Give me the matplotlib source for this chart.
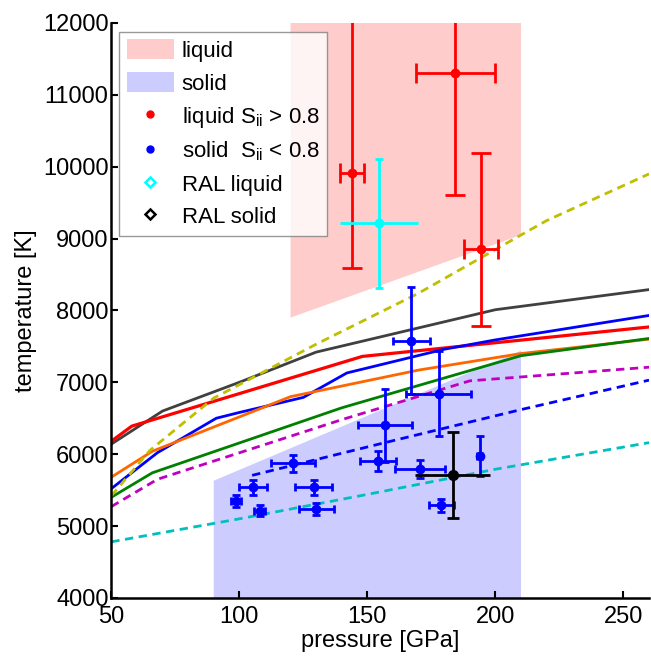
import matplotlib
matplotlib.use('Agg')
import matplotlib.pyplot as plt
from matplotlib.patches import Patch
from matplotlib.lines import Line2D

plt.rcParams['font.family'] = ['Liberation Sans', 'DejaVu Sans']
plt.rcParams['mathtext.default'] = 'regular'

# Phase regions (pressure GPa, temperature K)
liquid_p = [120, 210, 210, 120]
liquid_T = [12000, 12000, 9050, 7900]
solid_p = [90, 210, 210, 90]
solid_T = [4000, 4000, 7440, 5630]

# Melting curves
gray_p = [50, 70, 100, 130, 200, 260]
gray_T = [6140, 6600, 7000, 7420, 8010, 8290]
red_p = [50, 58, 148, 260]
red_T = [6180, 6390, 7360, 7770]
blue_p = [50, 68, 91, 100, 125, 142, 180, 200, 260]
blue_T = [5520, 6020, 6500, 6580, 6790, 7130, 7460, 7590, 7930]
orange_p = [50, 66, 120, 170, 210, 260]
orange_T = [5680, 6040, 6800, 7170, 7400, 7600]
green_p = [50, 66, 140, 210, 260]
green_T = [5400, 5740, 6645, 7370, 7610]
yellow_p = [50, 65, 90, 130, 170, 210, 220, 260]
yellow_T = [5420, 6050, 6780, 7530, 8240, 9050, 9250, 9900]
magenta_p = [50, 68, 140, 190, 260]
magenta_T = [5270, 5650, 6480, 7020, 7210]
bluedash_p = [105, 155, 210, 260]
bluedash_T = [5705, 6144, 6620, 7030]
cyan_p = [50, 100, 150, 200, 260]
cyan_T = [4780, 5100, 5440, 5790, 6160]

# Liquid points (S_ii > 0.8)
liq_p = [144.0, 184.4, 194.5]
liq_T = [9910, 11300, 8850]
liq_perr = [4.7, 15.5, 6.6]
liq_Tlo = [1320, 1690, 1070]
liq_Thi = [2500, 2500, 1340]

# Solid points (S_ii < 0.8)
sol_p = [98.8, 105.3, 107.9, 121.0, 129.0, 130.0, 154.0, 156.8, 167.2, 170.4, 177.8, 178.9, 193.8]
sol_T = [5350, 5540, 5215, 5870, 5540, 5240, 5900, 6400, 7580, 5800, 6840, 5290, 5970]
sol_perr = [2, 5.5, 2, 8.5, 7.2, 6.8, 7, 10.6, 7.2, 9.8, 12.7, 5, 0.8]
sol_Terr = [80, 105, 80, 115, 105, 80, 140, 510, 740, 125, 590, 90, 280]

# RAL points: pressure, temperature, pressure err, temperature err
ral_liq = [154.4, 9210, 15.2, 900]
ral_sol = [183.3, 5710, 14.6, 600]

fig = plt.figure(figsize=(6.51, 6.57), dpi=100)
ax = fig.add_axes([0.171, 0.09, 0.826, 0.875])

ax.fill(liquid_p, liquid_T, color='#FFCCCC', lw=0, zorder=1)
ax.fill(solid_p, solid_T, color='#CCCCFF', lw=0, zorder=1)

dash = (0, (3, 2))
ax.plot(gray_p, gray_T, color='#404040', lw=2, zorder=2)
ax.plot(red_p, red_T, color='#FF0000', lw=2.3, zorder=2)
ax.plot(blue_p, blue_T, color='#0000FF', lw=2, zorder=2)
ax.plot(orange_p, orange_T, color='#FF6600', lw=2, zorder=2)
ax.plot(green_p, green_T, color='#008000', lw=2, zorder=2)
ax.plot(yellow_p, yellow_T, color='#BFBF00', lw=2, ls=dash, zorder=2)
ax.plot(magenta_p, magenta_T, color='#BF00BF', lw=2, ls=dash, zorder=2)
ax.plot(bluedash_p, bluedash_T, color='#0000FF', lw=2, ls=dash, zorder=2)
ax.plot(cyan_p, cyan_T, color='#00BFBF', lw=2, ls=dash, zorder=2)

ax.errorbar(liq_p, liq_T, xerr=liq_perr, yerr=[liq_Tlo, liq_Thi], fmt='o', color='#FF0000',
            ms=6, elinewidth=2, capsize=7, capthick=2, zorder=4)
ax.errorbar(sol_p, sol_T, xerr=sol_perr, yerr=sol_Terr, fmt='o', color='#0000FF',
            ms=6, elinewidth=2, capsize=3, capthick=2, zorder=4)

# RAL: caps only on temperature bars
ax.errorbar(ral_liq[0], ral_liq[1], xerr=ral_liq[2], fmt='o', color='#00FFFF',
            ms=6, elinewidth=2, capsize=0, zorder=4)
ax.errorbar(ral_liq[0], ral_liq[1], yerr=ral_liq[3], fmt='none', ecolor='#00FFFF',
            elinewidth=2, capsize=3, capthick=2, zorder=4)
ax.errorbar(ral_sol[0], ral_sol[1], xerr=ral_sol[2], fmt='o', color='#000000',
            ms=7, elinewidth=2, capsize=0, zorder=4)
ax.errorbar(ral_sol[0], ral_sol[1], yerr=ral_sol[3], fmt='none', ecolor='#000000',
            elinewidth=2, capsize=4, capthick=2, zorder=4)

ax.set_xlim(50, 260)
ax.set_ylim(4000, 12000)
ax.set_xticks([50, 100, 150, 200, 250])
ax.set_yticks(range(4000, 12001, 1000))
ax.tick_params(direction='in', length=5, width=1.5, labelsize=17)
ax.tick_params(axis='x', pad=6)
ax.tick_params(axis='y', pad=2)
for s in ['top', 'right']:
    ax.spines[s].set_visible(False)
for s in ['left', 'bottom']:
    ax.spines[s].set_linewidth(1.8)
ax.set_xlabel('pressure [GPa]', fontsize=17, labelpad=1)
ax.set_ylabel('temperature [K]', fontsize=17, labelpad=4)

handles = [
    Patch(facecolor='#FFCCCC', edgecolor='none'),
    Patch(facecolor='#CCCCFF', edgecolor='none'),
    Line2D([], [], ls='none', marker='o', ms=5, color='#FF0000'),
    Line2D([], [], ls='none', marker='o', ms=5, color='#0000FF'),
    Line2D([], [], ls='none', marker='D', ms=5, mfc='white', mec='#00FFFF', mew=1.8),
    Line2D([], [], ls='none', marker='D', ms=5, mfc='white', mec='#000000', mew=1.8),
]
labels = ['liquid', 'solid', 'liquid S$_{ii}$ > 0.8', 'solid  S$_{ii}$ < 0.8', 'RAL liquid', 'RAL solid']
leg = ax.legend(handles, labels, loc='upper left', bbox_to_anchor=(0.015, 0.985), fontsize=16,
                frameon=True, fancybox=False, handlelength=2.1, handleheight=1.0,
                labelspacing=0.45, handletextpad=0.35, borderpad=0.35, borderaxespad=0)
leg.get_frame().set_edgecolor('#808080')
leg.get_frame().set_linewidth(1)
leg.set_zorder(5)

fig.savefig('out.png', dpi=100)
